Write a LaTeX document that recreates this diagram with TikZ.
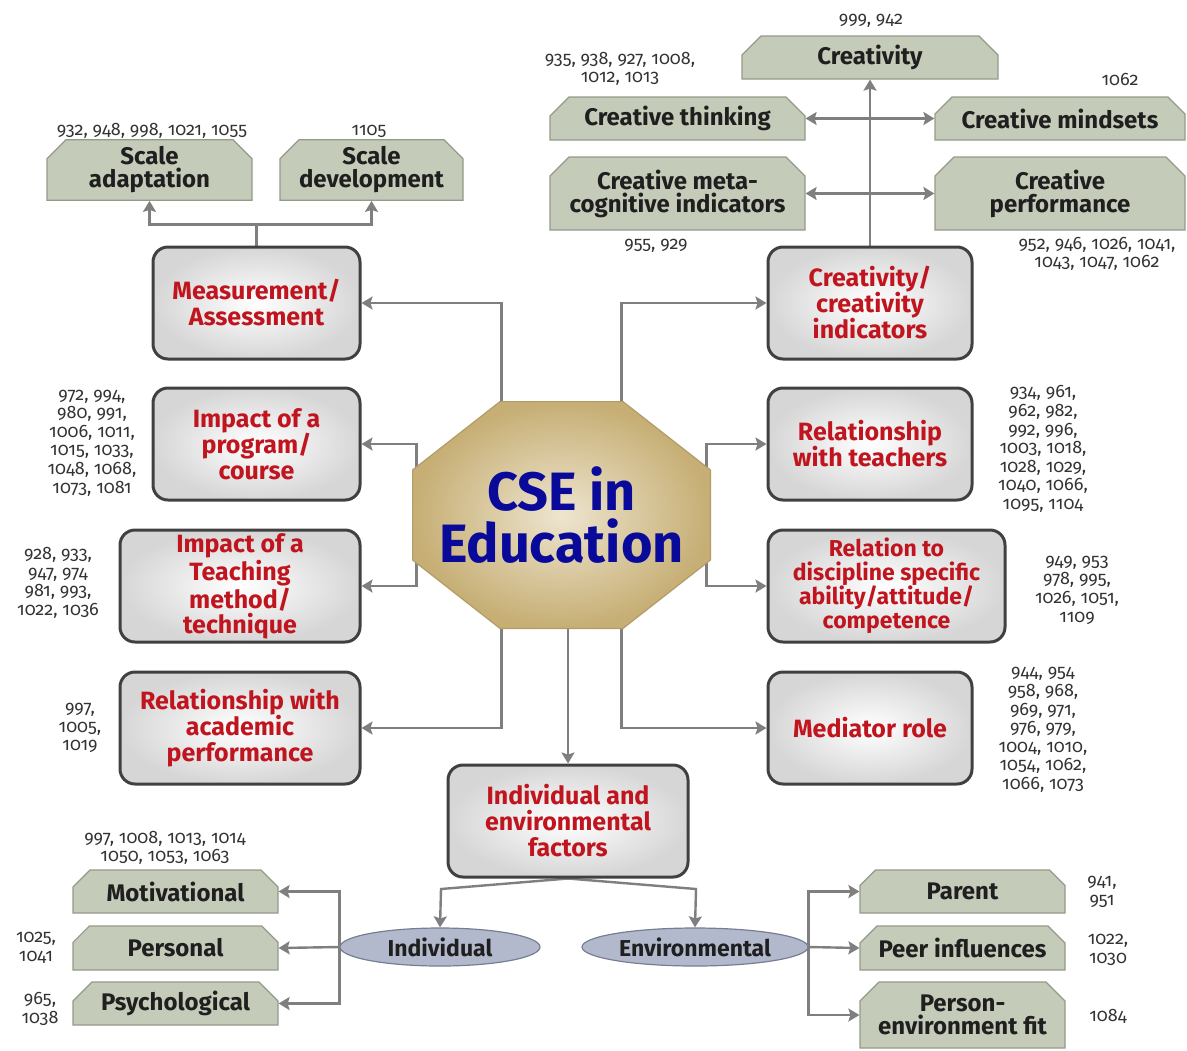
\documentclass[tikz,border=0pt]{standalone}
\usepackage{fontspec}
\setmainfont{Fira Sans}
\newfontfamily\numfont{Fira Sans}[RawFeature={+onum}]
\usetikzlibrary{arrows.meta,shapes.misc,shapes.geometric,backgrounds}
\pgfdeclarelayer{middle}
\pgfsetlayers{background,middle,main}
\definecolor{topicred}{HTML}{C0141E}
\definecolor{cseblue}{HTML}{0A0A9A}
\definecolor{sage}{HTML}{C5CBB9}
\definecolor{sageline}{HTML}{949A88}
\definecolor{slate}{HTML}{B3B9CC}
\definecolor{slateline}{HTML}{767E94}
\definecolor{tanin}{HTML}{EEE5CF}
\definecolor{tanout}{HTML}{C6AE74}
\definecolor{linkgrey}{HTML}{7F7F7F}
\begin{document}
\begin{tikzpicture}[x=0.5pt,y=-0.5pt,>={Stealth[length=5.5pt,width=6.5pt,inset=1pt]},
  topic/.style={draw=black!75,line width=1.5pt,rounded corners=7.5pt,inner color=white,outer color=black!16,
    text=topicred,align=center,font=\bfseries\fontsize{12.5}{13}\selectfont,inner sep=1pt,minimum height=56pt},
  sub/.style={chamfered rectangle,chamfered rectangle corners={north west,north east},chamfered rectangle xsep=6pt,
    fill=sage,draw=sageline,line width=0.6pt,align=center,font=\bfseries\fontsize{12}{11.5}\selectfont,
    text=black!88,inner sep=0pt,minimum height=21.5pt},
  group/.style={ellipse,fill=slate,draw=slateline,line width=0.6pt,font=\bfseries\fontsize{11.5}{12}\selectfont,
    text=black!88,minimum height=19pt,inner sep=0pt},
  refs/.style={font=\numfont\fontsize{9}{9.3}\selectfont,text=black!80,align=center,inner sep=0pt},
  link/.style={draw=linkgrey,line width=1.2pt}]
\useasboundingbox (0,0) rectangle (1187,1050);
\node[minimum width=148.5pt,minimum height=113pt,align=center,text=cseblue,
  font=\bfseries\fontsize{27}{26}\selectfont] (cse) at (561.5,515) {CSE in\\Education};
\begin{pgfonlayer}{middle}
\path[inner color=tanin,outer color=tanout,draw=tanout!90!black,line width=0.6pt]
  ([xshift=-30.75pt]cse.north) -- ([xshift=30.75pt]cse.north) -- ([yshift=22.5pt]cse.east)
  -- ([yshift=-22.5pt]cse.east) -- ([xshift=30.75pt]cse.south) -- ([xshift=-30.75pt]cse.south)
  -- ([yshift=-22.5pt]cse.west) -- ([yshift=22.5pt]cse.west) -- cycle;
\end{pgfonlayer}
\node[topic,minimum width=103.5pt] (mea) at (256.5,303) {Measurement/\\Assessment};
\node[topic,minimum width=102pt] (cin) at (870,303) {Creativity/\\creativity\\indicators};
\node[topic,minimum width=103.5pt] (prg) at (256.5,444) {Impact of a\\program/\\course};
\node[topic,minimum width=120pt,font=\bfseries\fontsize{12.5}{12.5}\selectfont] (tea) at (240,586) {Impact of a\\Teaching\\method/\\technique};
\node[topic,minimum width=120pt] (rac) at (240,728) {Relationship with\\academic\\performance};
\node[topic,minimum width=102pt] (rte) at (870,444) {Relationship\\with teachers};
\node[topic,minimum width=118.5pt,font=\bfseries\fontsize{11.5}{12}\selectfont] (rds) at (886.5,586) {Relation to\\discipline specific\\ability/attitude/\\competence};
\node[topic,minimum width=102pt] (med) at (870,728) {Mediator role};
\node[topic,minimum width=120pt] (fac) at (568,821) {Individual and\\environmental\\factors};
\node[sub,minimum width=128pt] (cre) at (870,57.5) {Creativity};
\node[sub,minimum width=127.5pt] (cth) at (677.5,118.5) {Creative thinking};
\node[sub,minimum width=125pt] (cms) at (1060,118.5) {Creative mindsets};
\node[sub,minimum width=127.5pt,minimum height=36.5pt] (cmc) at (677.5,193.5) {Creative meta-\\cognitive indicators};
\node[sub,minimum width=125pt,minimum height=36.5pt] (cpf) at (1060,193.5) {Creative\\performance};
\node[sub,minimum width=102.5pt,minimum height=22pt] (sad) at (149.5,170) {Scale\\adaptation};
\node[sub,minimum width=91.5pt,minimum height=22pt] (sdv) at (371.5,170) {Scale\\development};
\node[sub,minimum width=102.5pt] (mot) at (175.5,891.5) {Motivational};
\node[sub,minimum width=102.5pt,minimum height=22pt] (per) at (175.5,948) {Personal};
\node[sub,minimum width=102.5pt] (psy) at (175.5,1003.5) {Psychological};
\node[sub,minimum width=102.5pt] (par) at (962.5,891.5) {Parent};
\node[sub,minimum width=102.5pt,minimum height=22pt] (pee) at (962.5,948) {Peer influences};
\node[sub,minimum width=102.5pt,minimum height=33pt] (pef) at (962.5,1015) {Person-\\environment fit};
\node[group,minimum width=100pt] (ind) at (440,947) {Individual};
\node[group,minimum width=113pt] (env) at (695,947) {Environmental};
\node[refs] (rcre) at (871,21) {999, 942};
\node[refs] (rcth) at (620,69) {935, 938, 927, 1008,\\1012, 1013};
\node[refs] (rcms) at (1120,79) {1062};
\node[refs] (rcmc) at (656,246) {955, 929};
\node[refs] (rcpf) at (1097,254) {952, 946, 1026, 1041,\\1043, 1047, 1062};
\node[refs] (rsad) at (152,131) {932, 948, 998, 1021, 1055};
\node[refs] (rsdv) at (369,131) {1105};
\node[refs] (rprg) at (92,443) {972, 994,\\980, 991,\\1006, 1011,\\1015, 1033,\\1048, 1068,\\1073, 1081};
\node[refs] (rtea) at (58,583) {928, 933,\\947, 974\\981, 993,\\1022, 1036};
\node[refs] (rrac) at (80,728) {997,\\1005,\\1019};
\node[refs] (rrte) at (1043,449) {934, 961,\\962, 982,\\992, 996,\\1003, 1018,\\1028, 1029,\\1040, 1066,\\1095, 1104};
\node[refs] (rrds) at (1077,590) {949, 953\\978, 995,\\1026, 1051,\\1109};
\node[refs] (rmed) at (1043,730) {944, 954\\958, 968,\\969, 971,\\976, 979,\\1004, 1010,\\1054, 1062,\\1066, 1073};
\node[refs] (rmot) at (165,848) {997, 1008, 1013, 1014\\1050, 1053, 1063};
\node[refs] (rper) at (36,948) {1025,\\1041};
\node[refs] (rpsy) at (40,1009) {965,\\1038};
\node[refs] (rpar) at (1102,892) {941,\\951};
\node[refs] (rpee) at (1108,950) {1022,\\1030};
\node[refs] (rpef) at (1108,1016) {1084};
\coordinate (indbend) at (441,889);
\coordinate (envbend) at (696,889);
\begin{scope}[on background layer]
\draw[link,->] (cin.north) -- (cre.south);
\draw[link,<->] (cth.east) -- (cms.west);
\draw[link,<->] (cmc.east) -- (cpf.west);
\draw[link,->] (mea.north) -- ++(0,-21) -| (sad.south);
\draw[link,->] (mea.north) -- ++(0,-21) -| (sdv.south);
\draw[link,->] ([xshift=-30pt]cse.north) |- (mea.east);
\draw[link,->] ([xshift=30pt]cse.north) |- (cin.west);
\draw[link,->] ([xshift=2pt]cse.west) |- (prg.east);
\draw[link,->] ([xshift=2pt]cse.west) |- (tea.east);
\draw[link,->] ([xshift=-2pt]cse.east) |- (rte.west);
\draw[link,->] ([xshift=-2pt]cse.east) |- (rds.west);
\draw[link,->] ([xshift=-30pt]cse.south) |- (rac.east);
\draw[link,->] ([xshift=30pt]cse.south) |- (med.west);
\draw[link,->] (fac.north |- cse.south) -- (fac.north);
\draw[link,->] (fac.south) -- (indbend) -- (ind.north);
\draw[link,->] (fac.south) -- (envbend) -- (env.north);
\draw[link,->] (ind.west) |- (mot.east);
\draw[link,->] (ind.west) -- (per.east);
\draw[link,->] (ind.west) |- (psy.east);
\draw[link,->] (env.east) |- (par.west);
\draw[link,->] (env.east) -- (pee.west);
\draw[link,->] (env.east) |- (pef.west);
\end{scope}
\end{tikzpicture}
\end{document}
